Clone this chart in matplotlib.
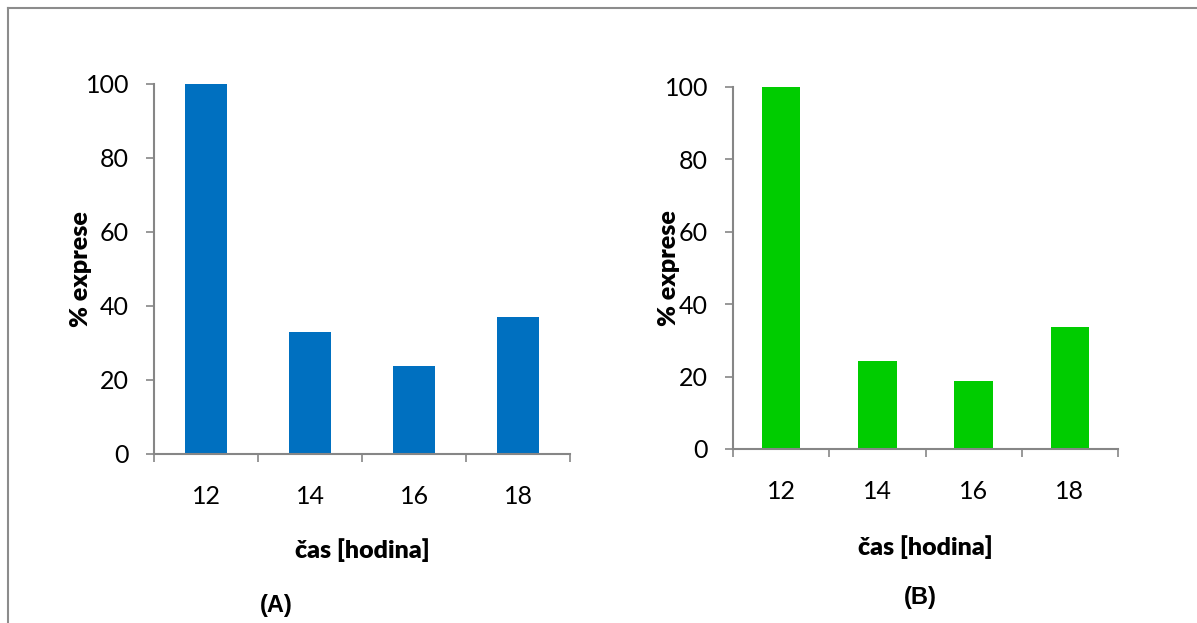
import numpy as np
import matplotlib
matplotlib.use("Agg")
import matplotlib.pyplot as plt
from matplotlib.lines import Line2D

hours = ["12", "14", "16", "18"]
expr_a = [100, 33, 23.8, 37]
expr_b = [100, 24.3, 18.8, 33.6]

plt.rcParams['font.family'] = ['Lato', 'DejaVu Sans']

AXIS_GRAY = "#868686"
FS = 18


def draw_panel(ax, values, color, panel_label, ylab_x, xlab_y, tag_x):
    x = np.arange(len(hours))
    ax.bar(x, values, width=0.4, color=color, zorder=2)
    ax.set_xlim(-0.5, len(hours) - 0.5)
    ax.set_ylim(0, 100)

    for side in ("top", "right"):
        ax.spines[side].set_visible(False)
    for side in ("left", "bottom"):
        ax.spines[side].set_color(AXIS_GRAY)
        ax.spines[side].set_linewidth(1.5)

    # category boundaries get the tick marks, centres get the labels
    ax.set_xticks(np.arange(len(hours) + 1) - 0.5)
    ax.set_xticklabels([])
    ax.set_xticks(x, minor=True)
    ax.set_xticklabels(hours, minor=True, fontsize=FS)
    ax.tick_params(axis="x", which="major", direction="out", length=6,
                   width=1.2, color=AXIS_GRAY)
    ax.tick_params(axis="x", which="minor", length=0, pad=22)

    ax.set_yticks(range(0, 101, 20))
    ax.tick_params(axis="y", direction="out", length=6, width=1.2,
                   color=AXIS_GRAY, labelsize=FS, pad=12)

    ax.set_ylabel("% exprese", fontsize=FS, fontweight="heavy")
    ax.yaxis.set_label_coords(ylab_x, 0.5)
    ax.set_xlabel("čas [hodina]", fontsize=FS, fontweight="heavy")
    ax.xaxis.set_label_coords(0.5, xlab_y)
    ax.text(tag_x, -0.41, panel_label, transform=ax.transAxes, ha="center",
            va="center", fontsize=17, fontweight="bold",
            fontfamily="Liberation Sans")


fig = plt.figure(figsize=(11.97, 6.23), dpi=100)

ax_a = fig.add_axes([0.1287, 0.2713, 0.3475, 0.5939])
draw_panel(ax_a, expr_a, "#0070C0", "(A)", -0.149, -0.227, 0.293)

ax_b = fig.add_axes([0.6124, 0.2793, 0.3216, 0.5811])
draw_panel(ax_b, expr_b, "#00CC00", "(B)", -0.137, -0.238, 0.486)

# outer frame (left and top edges)
fig.add_artist(Line2D([8 / 1197, 8 / 1197], [0, 1 - 8 / 623],
                      transform=fig.transFigure, color="#8c8c8c", lw=1.5))
fig.add_artist(Line2D([8 / 1197, 1], [1 - 8 / 623, 1 - 8 / 623],
                      transform=fig.transFigure, color="#8c8c8c", lw=1.5))

fig.savefig("out.png", dpi=100, facecolor="white")
